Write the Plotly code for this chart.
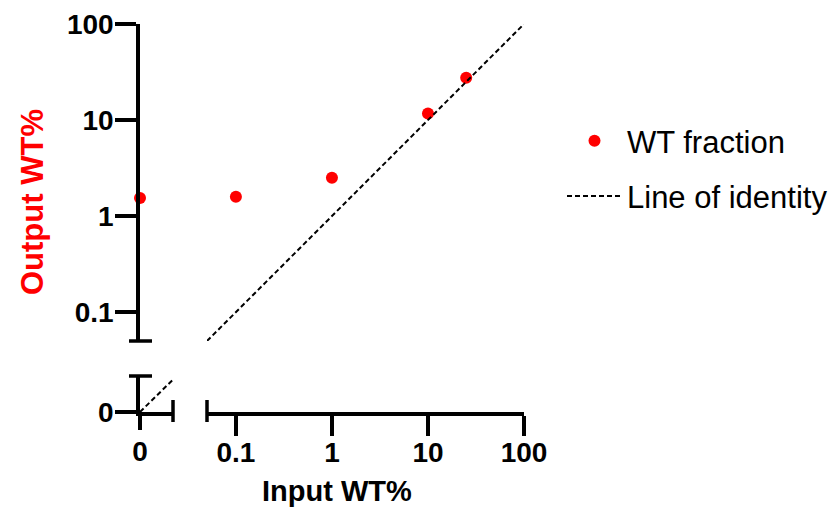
import plotly.graph_objects as go

# ---- data ----
zero_input = [0]
zero_output = [1.54]
input_wt = [0.1, 1, 10, 25]
output_wt = [1.59, 2.5, 11.7, 27.5]
identity_low = [0, 0.05]
identity_main = [0.05, 100]
log_ticks = [0.1, 1, 10, 100]
log_ticktext = ["0.1", "1", "10", "100"]

PAGE_W, PAGE_H = 836, 516
OFF = 8  # default body margin of the html page
W, H = PAGE_W - OFF, PAGE_H - OFF
FONT = "Liberation Sans, Arial, sans-serif"
LW = 3.5
RED = "#FF0000"

def px_x(p):
    return (p - OFF) / W

def px_y(p):
    return 1 - (p - OFF) / H

fig = go.Figure()

fig.add_trace(go.Scatter(x=zero_input, y=zero_output, mode="markers",
                         marker=dict(color=RED, size=12), xaxis="x", yaxis="y2",
                         cliponaxis=False, showlegend=False, legendgroup="a"))
fig.add_trace(go.Scatter(x=input_wt, y=output_wt, mode="markers", name="WT fraction",
                         marker=dict(color=RED, size=12), xaxis="x2", yaxis="y2",
                         cliponaxis=False, legendgroup="a"))
fig.add_trace(go.Scatter(x=identity_main, y=identity_main, mode="lines", name="Line of identity",
                         line=dict(color="black", width=2, dash="5px,3px"),
                         xaxis="x2", yaxis="y2", legendgroup="b"))
fig.add_trace(go.Scatter(x=identity_low, y=identity_low, mode="lines",
                         line=dict(color="black", width=2, dash="5px,3px"),
                         xaxis="x", yaxis="y", showlegend=False, legendgroup="b"))

tickfont = dict(family=FONT, size=28, color="black", weight="bold")
common = dict(showline=True, linecolor="black", linewidth=LW, ticks="outside",
              tickcolor="black", tickwidth=LW, showgrid=False, zeroline=False,
              tickfont=tickfont, tickmode="array", automargin=False)

fig.update_layout(
    width=W, height=H,
    margin=dict(l=0, r=0, t=0, b=0),
    paper_bgcolor="white", plot_bgcolor="white",
    xaxis=dict(domain=[px_x(140), px_x(173)], range=[0, 0.045], anchor="y",
               tickvals=[0], ticktext=["0"], ticklen=14, ticklabelstandoff=-2, **common),
    xaxis2=dict(domain=[px_x(207), px_x(524)], type="log", range=[-1.301, 2], anchor="y",
                tickvals=log_ticks, ticktext=log_ticktext, ticklen=20, ticklabelstandoff=-7,
                **common),
    yaxis=dict(domain=[px_y(412), px_y(376)], range=[0, 0.05], anchor="x",
               tickvals=[0], ticktext=["0"], ticklen=21, ticklabelstandoff=-4, **common),
    yaxis2=dict(domain=[px_y(341), px_y(24)], type="log", range=[-1.301, 2], anchor="x",
                tickvals=log_ticks, ticktext=log_ticktext, ticklen=21, ticklabelstandoff=-4,
                **common),
    legend=dict(x=px_x(562), y=px_y(114), xanchor="left", yanchor="top",
                font=dict(family=FONT, size=31, color="black"), itemwidth=55,
                traceorder="grouped", tracegroupgap=12, bgcolor="rgba(0,0,0,0)"),
    annotations=[
        dict(text="Output WT%", x=px_x(32), y=px_y(202), xref="paper", yref="paper",
             xanchor="center", yanchor="middle",
             textangle=-90, showarrow=False,
             font=dict(family=FONT, size=31, color=RED, weight="bold")),
        dict(text="Input WT%", x=px_x(337), y=px_y(491), xref="paper", yref="paper",
             xanchor="center", yanchor="middle", showarrow=False,
             font=dict(family=FONT, size=29, color="black", weight="bold")),
    ],
    shapes=[
        # cap at bottom of main y segment
        dict(type="line", xref="x domain", xsizemode="pixel", xanchor=0, x0=-11, x1=12,
             yref="y2 domain", y0=0, y1=0, line=dict(color="black", width=LW)),
        # cap at top of low y segment
        dict(type="line", xref="x domain", xsizemode="pixel", xanchor=0, x0=-11, x1=12,
             yref="y domain", y0=1, y1=1, line=dict(color="black", width=LW)),
        # cap at right end of low x segment
        dict(type="line", xref="x domain", x0=1, x1=1, yref="y domain", ysizemode="pixel",
             yanchor=0, y0=-10, y1=12, line=dict(color="black", width=LW)),
        # cap at left end of main x segment
        dict(type="line", xref="x2 domain", x0=0, x1=0, yref="y domain", ysizemode="pixel",
             yanchor=0, y0=-10, y1=12, line=dict(color="black", width=LW)),
    ],
)

fig.write_html("out.html")
